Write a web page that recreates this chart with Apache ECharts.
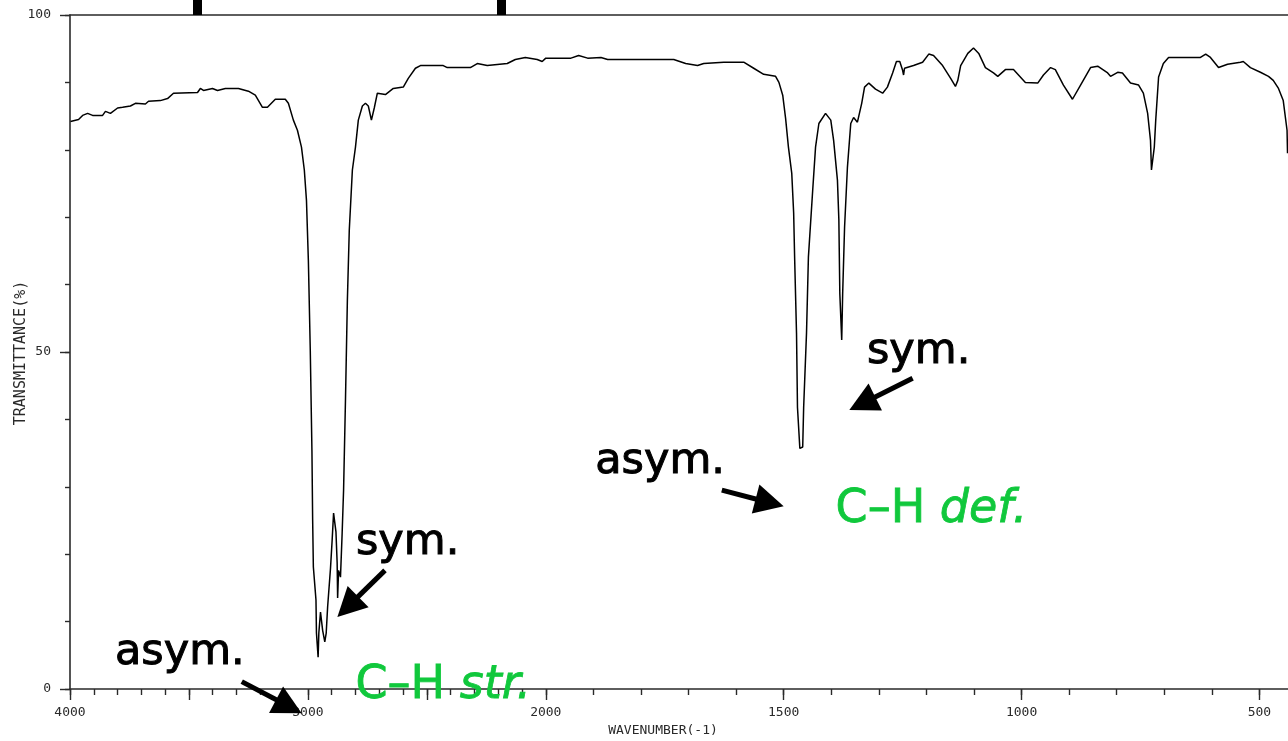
<!DOCTYPE html>
<html>
<head>
<meta charset="utf-8">
<script src="https://cdn.jsdelivr.net/npm/echarts@6/dist/echarts.min.js"></script>
<style>html,body{margin:0;padding:0;background:#fff}#c{width:1288px;height:741px}</style>
</head>
<body>
<div id="c"></div>
<script>
// ---- data (wavenumber cm-1, transmittance %) ----
const wavenumbers = [3998,3964,3947,3926,3905,3863,3851,3830,3800,3779,
  3746,3725,3683,3670,3620,3590,3565,3464,3452,3439,
  3401,3380,3347,3292,3250,3221,3191,3170,3137,3095,
  3082,3061,3044,3027,3015,3006,2998,2990,2983,2980,
  2977,2966,2964,2957,2954,2947,2940,2938,2929,2923,
  2917,2905,2898,2892,2884,2882,2877,2875,2871,2863,
  2856,2850,2842,2834,2826,2813,2800,2788,2771,2758,
  2746,2733,2721,2708,2674,2641,2599,2578,2548,2527,
  2431,2414,2317,2288,2246,2162,2128,2086,2036,2015,
  2000,1947,1931,1912,1884,1870,1731,1706,1681,1668,
  1626,1584,1563,1542,1517,1510,1502,1496,1490,1483,
  1479,1477,1473,1471,1466,1460,1458,1452,1448,1439,
  1433,1426,1412,1401,1395,1387,1384,1382,1378,1376,
  1372,1366,1359,1353,1345,1336,1330,1321,1307,1292,
  1282,1271,1263,1256,1250,1248,1246,1227,1208,1195,
  1185,1166,1149,1139,1134,1128,1113,1101,1090,1076,
  1059,1050,1034,1017,992,966,954,939,929,912,
  893,876,855,840,819,813,798,788,771,754,
  744,735,729,727,723,721,718,712,702,691,
  681,624,613,603,586,567,540,534,519,498,
  481,471,460,450,442,441];
const transmittance = [84.2,84.5,85.1,85.4,85.1,85.1,85.7,85.4,86.2,86.3,
  86.5,86.9,86.8,87.2,87.3,87.6,88.4,88.5,89.1,88.8,
  89.1,88.8,89.1,89.1,88.7,88.1,86.3,86.3,87.5,87.5,
  86.9,84.4,82.9,80.4,77.0,72.5,63.6,50.3,35.4,25.1,
  18.1,13.2,8.3,4.7,8.3,11.4,11.4,8.7,7.0,8.3,
  12.2,17.9,22.1,26.1,26.1,23.3,18.7,13.5,17.6,16.6,
  23.1,29.5,42.9,57.7,68.1,77.0,80.4,84.4,86.5,86.9,
  86.5,84.4,86.2,88.4,88.2,89.1,89.3,90.6,92.1,92.5,
  92.5,92.2,92.2,92.8,92.5,92.8,93.4,93.7,93.4,93.1,
  93.6,93.6,94.0,93.6,93.7,93.4,93.4,92.8,92.5,92.8,
  93.0,93.0,92.1,91.2,90.9,90.0,88.1,84.7,80.4,76.5,
  70.6,64.1,52.8,41.8,35.7,35.9,41.8,52.8,64.1,74.0,
  80.4,83.9,85.4,84.4,81.4,75.5,69.6,58.7,51.8,58.7,
  68.5,77.4,83.9,84.8,84.1,86.9,89.3,89.9,89.0,88.4,
  89.3,91.4,93.1,93.1,91.8,91.1,92.1,92.5,93.0,94.2,
  94.0,92.5,90.6,89.4,90.3,92.5,94.3,95.1,94.3,92.2,
  91.4,90.9,91.9,91.9,90.0,89.9,91.1,92.2,91.9,89.6,
  87.5,89.6,92.2,92.4,91.4,90.9,91.5,91.4,89.9,89.6,
  88.4,85.4,81.4,77.0,77.0,80.4,84.4,90.8,92.8,93.7,
  93.7,93.7,94.2,93.7,92.2,92.7,93.0,93.1,92.2,91.5,
  90.9,90.3,89.1,87.3,82.9,79.5];

// ---- axis ticks / labels ----
const xStart = 4000, xEnd = 440;
const xTickLabels = [4000, 3000, 2000, 1500, 1000, 500];
const xMajorTicks = [4000, 3500, 3000, 2500, 2000, 1500, 1000, 500];
const xMinorStep = 100;
const yTickLabels = [0, 50, 100];
const yMinorStep = 10;
const xName = 'WAVENUMBER(-1)';
const yName = 'TRANSMITTANCE(%)';

// ---- annotations (in data coordinates: wavenumber, transmittance) ----
const noteTexts = ['asym.', 'sym.', 'asym.', 'sym.'];
const noteWn = [1896, 1325, 3811, 2798];
const noteT = [33.7, 50.0, 5.3, 21.65];
const groupPlain = ['C\u2013H ', 'C\u2013H '];
const groupItalic = ['def.', 'str.'];
const groupWn = [1391, 2800];
const groupT = [26.6, 0.39];
// arrows: tail wavenumber, tail T, tip wavenumber, tip T
const arrowTailWn = [1229, 1630, 2676, 3278];
const arrowTailT = [46.1, 29.5, 17.6, 1.1];
const arrowTipWn = [1362, 1500, 2876, 3026];
const arrowTipT = [41.4, 27.1, 10.7, -3.6];

// piecewise wavenumber scale (4000-2000 compressed, 2000-400 expanded x2)
function toU(w) { return w >= 2000 ? (4000 - w) / 1000 : 2 + (2000 - w) / 500; }
function fromU(u) { return u <= 2 ? 4000 - u * 1000 : 2000 - (u - 2) * 500; }

const xMinorTicks = [];
for (let w = xStart; w >= 500; w -= xMinorStep) xMinorTicks.push(w);

const seriesData = wavenumbers.map((w, i) => [toU(w), transmittance[i]]);

const axisColor = '#2a2a2a';
const monoFont = 'DejaVu Sans Mono';
const uMax = toU(xEnd);
const gridBox = { left: 70, right: 0, top: 15, bottom: 52, containLabel: false, outerBoundsMode: 'none' };

const hidden = { show: false };
const option = {
  animation: false,
  backgroundColor: '#fff',
  grid: [Object.assign({}, gridBox), Object.assign({}, gridBox)],
  xAxis: [
    { gridIndex: 0, type: 'value', position: 'bottom', min: 0, max: uMax,
      splitLine: hidden,
      axisLine: { show: true, onZero: false, lineStyle: { color: axisColor, width: 1.6 } },
      axisTick: { show: true, length: 11, customValues: xMajorTicks.map(toU), lineStyle: { color: axisColor, width: 1.4 } },
      axisLabel: { show: true, customValues: xTickLabels.map(toU), margin: 17,
        formatter: v => String(Math.round(fromU(v))), color: axisColor, fontFamily: monoFont, fontSize: 13 } },
    { gridIndex: 0, type: 'value', position: 'top', min: 0, max: uMax,
      splitLine: hidden, axisTick: hidden, axisLabel: hidden,
      axisLine: { show: true, onZero: false, lineStyle: { color: axisColor, width: 1.6 } } },
    { gridIndex: 1, type: 'value', position: 'bottom', min: 0, max: uMax,
      splitLine: hidden, axisLabel: hidden, axisLine: { show: false, onZero: false },
      axisTick: { show: true, length: 6, customValues: xMinorTicks.map(toU), lineStyle: { color: axisColor, width: 1.4 } } }
  ],
  yAxis: [
    { gridIndex: 0, type: 'value', position: 'left', min: 0, max: 100, interval: 10,
      splitLine: hidden,
      axisLine: { show: true, onZero: false, lineStyle: { color: axisColor, width: 1.6 } },
      axisTick: { show: true, length: 10, customValues: yTickLabels, lineStyle: { color: axisColor, width: 1.4 } },
      axisLabel: { show: true, customValues: yTickLabels, margin: 19, color: axisColor, fontFamily: monoFont, fontSize: 13 } },
    { gridIndex: 1, type: 'value', position: 'left', min: 0, max: 100, interval: yMinorStep,
      splitLine: hidden, axisLabel: hidden, axisLine: { show: false, onZero: false },
      axisTick: { show: true, length: 5, lineStyle: { color: axisColor, width: 1.4 } } }
  ],
  series: [{
    type: 'line', xAxisIndex: 0, yAxisIndex: 0, data: seriesData,
    showSymbol: false, symbol: 'none', smooth: false,
    lineStyle: { color: '#000', width: 1.5 }, z: 5
  }]
};

const chart = echarts.init(document.getElementById('c'), null, { renderer: 'canvas' });
chart.setOption(option);

function px(w, t) { return chart.convertToPixel({ gridIndex: 0 }, [toU(w), t]); }

const graphics = [];
// header bars cut off at the top of the picture
graphics.push({ type: 'rect', shape: { x: 193, y: 0, width: 9, height: 15 }, style: { fill: '#000' }, z: 50 });
graphics.push({ type: 'rect', shape: { x: 497, y: 0, width: 9, height: 15 }, style: { fill: '#000' }, z: 50 });
// axis names
graphics.push({ type: 'text', z: 50, style: { text: xName, x: 663, y: 731, align: 'center', verticalAlign: 'middle',
  fontFamily: monoFont, fontSize: 13, fill: axisColor } });
graphics.push({ type: 'text', z: 50, x: 21, y: 353, rotation: Math.PI / 2,
  style: { text: yName, x: 0, y: 0, align: 'center', verticalAlign: 'middle',
  fontFamily: monoFont, fontSize: 15, fill: axisColor } });

// arrows
for (let i = 0; i < arrowTailWn.length; i++) {
  const p0 = px(arrowTailWn[i], arrowTailT[i]);
  const p1 = px(arrowTipWn[i], arrowTipT[i]);
  const dx = p1[0] - p0[0], dy = p1[1] - p0[1];
  const L = Math.hypot(dx, dy), ux = dx / L, uy = dy / L;
  const hl = 29, hw = 15;
  const bx = p1[0] - ux * hl, by = p1[1] - uy * hl;
  graphics.push({ type: 'line', z: 60, shape: { x1: p0[0], y1: p0[1], x2: bx + ux * 4, y2: by + uy * 4 },
    style: { stroke: '#000', lineWidth: 5 } });
  graphics.push({ type: 'polygon', z: 60, shape: { points: [[p1[0], p1[1]], [bx - uy * hw, by + ux * hw], [bx + uy * hw, by - ux * hw]] },
    style: { fill: '#000' } });
}
// black annotation words
for (let i = 0; i < noteTexts.length; i++) {
  const p = px(noteWn[i], noteT[i]);
  graphics.push({ type: 'text', z: 60, style: { text: noteTexts[i], x: p[0], y: p[1], align: 'left', verticalAlign: 'middle',
    fontFamily: 'DejaVu Sans', fontSize: 43, fill: '#000', stroke: '#000', lineWidth: 1.0 } });
}
// green group labels
const green = '#10c83c';
for (let i = 0; i < groupPlain.length; i++) {
  const p = px(groupWn[i], groupT[i]);
  graphics.push({ type: 'text', z: 60, style: {
    text: '{n|' + groupPlain[i] + '}{i|' + groupItalic[i] + '}', x: p[0], y: p[1], align: 'left', verticalAlign: 'middle',
    rich: {
      n: { fontFamily: 'DejaVu Sans', fontSize: 46, fill: green, stroke: green, lineWidth: 0.8 },
      i: { fontFamily: 'DejaVu Sans', fontSize: 46, fontStyle: 'italic', fill: green, stroke: green, lineWidth: 0.8 }
    } } });
}
chart.setOption({ graphic: graphics });
</script>
</body>
</html>
